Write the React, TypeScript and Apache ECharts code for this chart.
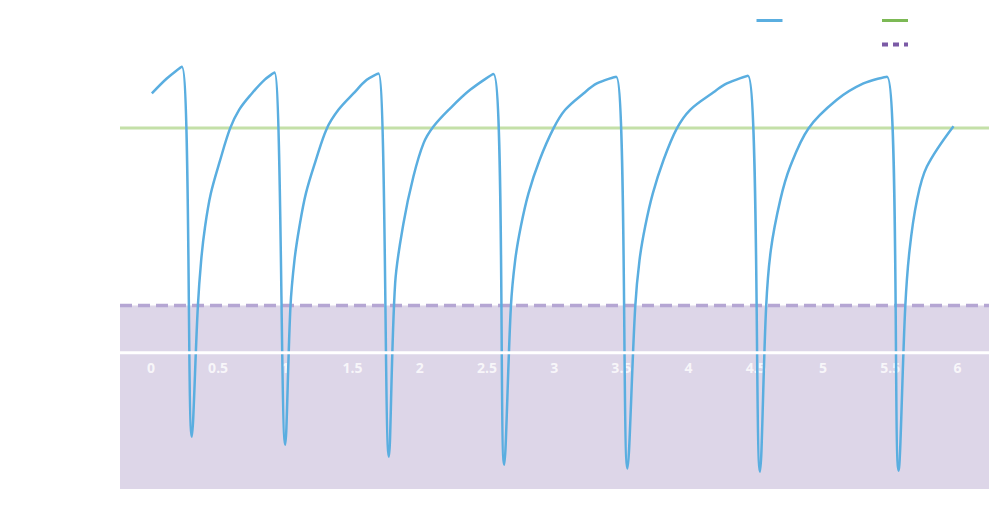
import React, { useEffect, useRef } from "react";
import * as echarts from "echarts";

// axis extent (value axis)
const X_MIN = -0.23;
const X_MAX = 6.235;
const Y_MIN = -3;
const Y_MAX = 7.5;

const tickValues = [0, 0.5, 1, 1.5, 2, 2.5, 3, 3.5, 4, 4.5, 5, 5.5, 6];

const seriesNames = ["Concentration", "Target", "Threshold"];

const levelX = [0.007, 0.118, 0.23, 0.304,
  0.349, 0.374, 0.403, 0.446, 0.515, 0.589, 0.656, 0.751, 0.845, 0.919, 0.999,
  1.038, 1.068, 1.105, 1.153, 1.227, 1.309, 1.395, 1.507, 1.606, 1.693, 1.77,
  1.817, 1.879, 1.953, 2.028, 2.102, 2.226, 2.375, 2.548, 2.628,
  2.678, 2.71, 2.752, 2.809, 2.891, 2.995, 3.082, 3.218, 3.318, 3.461, 3.545,
  3.603, 3.635, 3.677, 3.734, 3.813, 3.913, 4.012, 4.173, 4.285, 4.441, 4.531,
  4.577, 4.612, 4.682, 4.756, 4.892, 5.103, 5.301, 5.476, 5.562,
  5.612, 5.644, 5.699, 5.773, 5.971];

const levelY = [5.71, 6.04, 6.3, -1.85,
  1.01, 2.04, 2.78, 3.51, 4.24, 4.94, 5.35, 5.71, 6.01, 6.17, -2.03,
  1.01, 2.04, 2.78, 3.51, 4.24, 4.94, 5.35, 5.71, 6.01, 6.15, -2.29,
  1.53, 2.85, 3.88, 4.61, 4.98, 5.38, 5.79, 6.14, -2.47,
  1.01, 2.04, 2.78, 3.51, 4.24, 4.94, 5.35, 5.71, 5.93, 6.08, -2.55,
  1.01, 2.04, 2.78, 3.51, 4.24, 4.94, 5.35, 5.71, 5.93, 6.1, -2.62,
  1.01, 2.26, 3.36, 4.1, 4.94, 5.57, 5.93, 6.08, -2.6,
  1.01, 2.26, 3.36, 4.1, 4.99];

const targetValue = 4.95;
const thresholdValue = 1.04;
const baseValue = 0;

export default function App() {
  const ref = useRef<HTMLDivElement>(null);
  useEffect(() => {
    if (!ref.current) return;
    const chart = echarts.init(ref.current, undefined, { renderer: "svg" });
    const blueData = levelX.map((x, i) => [x, levelY[i]]);
    const span = (v: number) => [[X_MIN, v], [X_MAX, v]];
    const hidden = { opacity: 0 };
    chart.setOption({
      animation: false,
      backgroundColor: "#ffffff",
      grid: { left: 120, right: 11, top: 12.2, bottom: 37.1 },
      legend: [
        {
          left: 750,
          top: 9,
          itemWidth: 26,
          itemHeight: 14,
          textStyle: { color: "#ffffff", fontSize: 13 },
          data: [{ name: seriesNames[0], itemStyle: hidden, lineStyle: { color: "#5aaee0", width: 3 } }],
        },
        {
          left: 875,
          top: 9,
          orient: "vertical",
          itemWidth: 26,
          itemHeight: 14,
          itemGap: 11,
          textStyle: { color: "#ffffff", fontSize: 13 },
          data: [
            { name: seriesNames[1], itemStyle: hidden, lineStyle: { color: "#7cb955", width: 3 } },
            { name: seriesNames[2], itemStyle: hidden, lineStyle: { color: "#7b5aa6", width: 4, type: [6, 5] } },
          ],
        },
      ],
      xAxis: {
        type: "value",
        min: X_MIN,
        max: X_MAX,
        axisLine: { show: false },
        axisTick: { show: false },
        splitLine: { show: false },
        axisLabel: { show: false },
      },
      yAxis: {
        type: "value",
        min: Y_MIN,
        max: Y_MAX,
        show: false,
        splitLine: { show: false },
      },
      series: [
        {
          name: seriesNames[2],
          type: "line",
          z: 1,
          symbol: "none",
          data: span(thresholdValue),
          itemStyle: { color: "#7b5aa6" },
          lineStyle: { color: "#b5a6d3", width: 3.5, type: [12, 6] },
          areaStyle: { origin: "start", color: "#ddd6e8", opacity: 1 },
        },
        {
          name: "tickLabels",
          type: "scatter",
          z: 5,
          silent: true,
          symbolSize: 0,
          data: tickValues.map((v) => [v, baseValue]),
          label: {
            show: true,
            position: "bottom",
            distance: 8,
            formatter: (p: any) => String(p.value[0]),
            color: "#ffffff",
            fontSize: 14,
            fontWeight: "bold",
            fontFamily: "Open Sans",
          },
        },
        {
          name: "axis",
          type: "line",
          z: 12,
          symbol: "none",
          silent: true,
          data: span(baseValue),
          lineStyle: { color: "#ffffff", width: 3 },
        },
        {
          name: seriesNames[1],
          type: "line",
          z: 9,
          symbol: "none",
          data: span(targetValue),
          itemStyle: { color: "#7cb955" },
          lineStyle: { color: "#c4e0a8", width: 3 },
        },
        {
          name: seriesNames[0],
          type: "line",
          z: 11,
          symbol: "none",
          smooth: 0.35,
          data: blueData,
          itemStyle: { color: "#5aaee0" },
          lineStyle: { color: "#5aaee0", width: 2.5 },
        },
      ],
    });
    return () => chart.dispose();
  }, []);
  return <div ref={ref} style={{ width: 1000, height: 526, position: "absolute", left: 0, top: 0 }} />;
}
